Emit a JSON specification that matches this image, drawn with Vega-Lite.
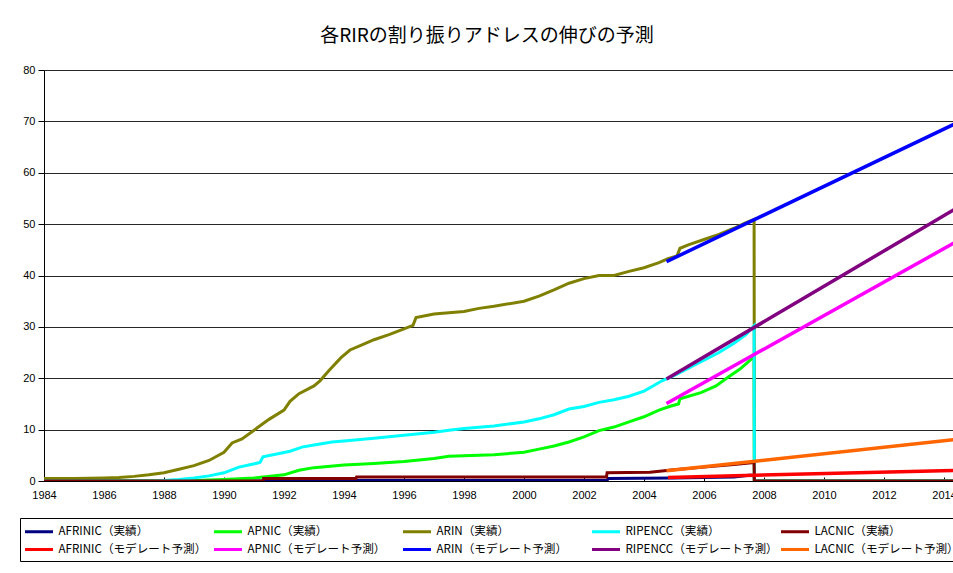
{
  "$schema": "https://vega.github.io/schema/vega-lite/v6.json",
  "width": 930,
  "height": 411,
  "autosize": {"type": "none"},
  "padding": {"left": 44, "top": 70, "right": 0, "bottom": 92},
  "background": "white",
  "title": {
    "text": "各RIRの割り振りアドレスの伸びの予測",
    "font": "Noto Sans CJK JP",
    "fontSize": 19,
    "fontWeight": "normal",
    "color": "black",
    "anchor": "middle",
    "dx": -22,
    "offset": 18
  },
  "config": {
    "view": {"stroke": null},
    "axis": {
      "labelFont": "Liberation Sans",
      "labelFontSize": 11,
      "labelColor": "black",
      "domainColor": "black",
      "tickColor": "black",
      "title": null
    }
  },
  "data": {
    "values": [
      {"s": "AFRINIC（実績）", "k": "実績", "x": 1984, "y": 0},
      {"s": "AFRINIC（実績）", "k": "実績", "x": 1994.4, "y": 0},
      {"s": "AFRINIC（実績）", "k": "実績", "x": 1994.42, "y": 0.1},
      {"s": "AFRINIC（実績）", "k": "実績", "x": 2002.77, "y": 0.1},
      {"s": "AFRINIC（実績）", "k": "実績", "x": 2002.8, "y": 0.5},
      {"s": "AFRINIC（実績）", "k": "実績", "x": 2005, "y": 0.6},
      {"s": "AFRINIC（実績）", "k": "実績", "x": 2006, "y": 0.7},
      {"s": "AFRINIC（実績）", "k": "実績", "x": 2007, "y": 0.8},
      {"s": "AFRINIC（実績）", "k": "実績", "x": 2007.5, "y": 1.1},
      {"s": "AFRINIC（実績）", "k": "実績", "x": 2007.67, "y": 1.1},
      {"s": "AFRINIC（実績）", "k": "実績", "x": 2007.68, "y": 0},
      {"s": "AFRINIC（実績）", "k": "実績", "x": 2015, "y": 0},

      {"s": "APNIC（実績）", "k": "実績", "x": 1984, "y": 0},
      {"s": "APNIC（実績）", "k": "実績", "x": 1988.8, "y": 0},
      {"s": "APNIC（実績）", "k": "実績", "x": 1989.5, "y": 0.2},
      {"s": "APNIC（実績）", "k": "実績", "x": 1990, "y": 0.3},
      {"s": "APNIC（実績）", "k": "実績", "x": 1991, "y": 0.6},
      {"s": "APNIC（実績）", "k": "実績", "x": 1992, "y": 1.2},
      {"s": "APNIC（実績）", "k": "実績", "x": 1992.5, "y": 2.1},
      {"s": "APNIC（実績）", "k": "実績", "x": 1993, "y": 2.6},
      {"s": "APNIC（実績）", "k": "実績", "x": 1994, "y": 3.1},
      {"s": "APNIC（実績）", "k": "実績", "x": 1995, "y": 3.4},
      {"s": "APNIC（実績）", "k": "実績", "x": 1996, "y": 3.8},
      {"s": "APNIC（実績）", "k": "実績", "x": 1997, "y": 4.4},
      {"s": "APNIC（実績）", "k": "実績", "x": 1997.5, "y": 4.8},
      {"s": "APNIC（実績）", "k": "実績", "x": 1998, "y": 4.9},
      {"s": "APNIC（実績）", "k": "実績", "x": 1999, "y": 5.1},
      {"s": "APNIC（実績）", "k": "実績", "x": 2000, "y": 5.6},
      {"s": "APNIC（実績）", "k": "実績", "x": 2000.5, "y": 6.2},
      {"s": "APNIC（実績）", "k": "実績", "x": 2001, "y": 6.8},
      {"s": "APNIC（実績）", "k": "実績", "x": 2001.5, "y": 7.6},
      {"s": "APNIC（実績）", "k": "実績", "x": 2002, "y": 8.6},
      {"s": "APNIC（実績）", "k": "実績", "x": 2002.5, "y": 9.8},
      {"s": "APNIC（実績）", "k": "実績", "x": 2003, "y": 10.5},
      {"s": "APNIC（実績）", "k": "実績", "x": 2003.5, "y": 11.5},
      {"s": "APNIC（実績）", "k": "実績", "x": 2004, "y": 12.5},
      {"s": "APNIC（実績）", "k": "実績", "x": 2004.5, "y": 13.8},
      {"s": "APNIC（実績）", "k": "実績", "x": 2004.9, "y": 14.6},
      {"s": "APNIC（実績）", "k": "実績", "x": 2005.15, "y": 15.0},
      {"s": "APNIC（実績）", "k": "実績", "x": 2005.2, "y": 16.0},
      {"s": "APNIC（実績）", "k": "実績", "x": 2005.9, "y": 17.2},
      {"s": "APNIC（実績）", "k": "実績", "x": 2006.4, "y": 18.5},
      {"s": "APNIC（実績）", "k": "実績", "x": 2006.8, "y": 20.2},
      {"s": "APNIC（実績）", "k": "実績", "x": 2007.2, "y": 21.8},
      {"s": "APNIC（実績）", "k": "実績", "x": 2007.53, "y": 23.5},
      {"s": "APNIC（実績）", "k": "実績", "x": 2007.67, "y": 24.2},
      {"s": "APNIC（実績）", "k": "実績", "x": 2007.68, "y": 0},
      {"s": "APNIC（実績）", "k": "実績", "x": 2015, "y": 0},

      {"s": "ARIN（実績）", "k": "実績", "x": 1984, "y": 0.5},
      {"s": "ARIN（実績）", "k": "実績", "x": 1985, "y": 0.5},
      {"s": "ARIN（実績）", "k": "実績", "x": 1986, "y": 0.6},
      {"s": "ARIN（実績）", "k": "実績", "x": 1986.5, "y": 0.7},
      {"s": "ARIN（実績）", "k": "実績", "x": 1987, "y": 0.9},
      {"s": "ARIN（実績）", "k": "実績", "x": 1987.5, "y": 1.2},
      {"s": "ARIN（実績）", "k": "実績", "x": 1988, "y": 1.6},
      {"s": "ARIN（実績）", "k": "実績", "x": 1988.5, "y": 2.3},
      {"s": "ARIN（実績）", "k": "実績", "x": 1989, "y": 3.0},
      {"s": "ARIN（実績）", "k": "実績", "x": 1989.5, "y": 4.0},
      {"s": "ARIN（実績）", "k": "実績", "x": 1990, "y": 5.6},
      {"s": "ARIN（実績）", "k": "実績", "x": 1990.27, "y": 7.4},
      {"s": "ARIN（実績）", "k": "実績", "x": 1990.6, "y": 8.2},
      {"s": "ARIN（実績）", "k": "実績", "x": 1991.1, "y": 10.3},
      {"s": "ARIN（実績）", "k": "実績", "x": 1991.5, "y": 12.0},
      {"s": "ARIN（実績）", "k": "実績", "x": 1992, "y": 13.8},
      {"s": "ARIN（実績）", "k": "実績", "x": 1992.2, "y": 15.5},
      {"s": "ARIN（実績）", "k": "実績", "x": 1992.5, "y": 17.0},
      {"s": "ARIN（実績）", "k": "実績", "x": 1993, "y": 18.5},
      {"s": "ARIN（実績）", "k": "実績", "x": 1993.2, "y": 19.5},
      {"s": "ARIN（実績）", "k": "実績", "x": 1993.5, "y": 21.5},
      {"s": "ARIN（実績）", "k": "実績", "x": 1993.9, "y": 24.0},
      {"s": "ARIN（実績）", "k": "実績", "x": 1994.2, "y": 25.5},
      {"s": "ARIN（実績）", "k": "実績", "x": 1994.6, "y": 26.5},
      {"s": "ARIN（実績）", "k": "実績", "x": 1995, "y": 27.5},
      {"s": "ARIN（実績）", "k": "実績", "x": 1995.5, "y": 28.5},
      {"s": "ARIN（実績）", "k": "実績", "x": 1996, "y": 29.6},
      {"s": "ARIN（実績）", "k": "実績", "x": 1996.3, "y": 30.3},
      {"s": "ARIN（実績）", "k": "実績", "x": 1996.4, "y": 31.8},
      {"s": "ARIN（実績）", "k": "実績", "x": 1997, "y": 32.5},
      {"s": "ARIN（実績）", "k": "実績", "x": 1998, "y": 33.0},
      {"s": "ARIN（実績）", "k": "実績", "x": 1998.5, "y": 33.6},
      {"s": "ARIN（実績）", "k": "実績", "x": 1999, "y": 34.0},
      {"s": "ARIN（実績）", "k": "実績", "x": 2000, "y": 35.0},
      {"s": "ARIN（実績）", "k": "実績", "x": 2000.5, "y": 36.0},
      {"s": "ARIN（実績）", "k": "実績", "x": 2001, "y": 37.2},
      {"s": "ARIN（実績）", "k": "実績", "x": 2001.5, "y": 38.5},
      {"s": "ARIN（実績）", "k": "実績", "x": 2002, "y": 39.4},
      {"s": "ARIN（実績）", "k": "実績", "x": 2002.5, "y": 40.0},
      {"s": "ARIN（実績）", "k": "実績", "x": 2003, "y": 40.0},
      {"s": "ARIN（実績）", "k": "実績", "x": 2003.5, "y": 40.8},
      {"s": "ARIN（実績）", "k": "実績", "x": 2004, "y": 41.5},
      {"s": "ARIN（実績）", "k": "実績", "x": 2004.5, "y": 42.5},
      {"s": "ARIN（実績）", "k": "実績", "x": 2004.8, "y": 43.3},
      {"s": "ARIN（実績）", "k": "実績", "x": 2005.1, "y": 43.8},
      {"s": "ARIN（実績）", "k": "実績", "x": 2005.2, "y": 45.3},
      {"s": "ARIN（実績）", "k": "実績", "x": 2005.5, "y": 46.0},
      {"s": "ARIN（実績）", "k": "実績", "x": 2006, "y": 47.0},
      {"s": "ARIN（実績）", "k": "実績", "x": 2006.5, "y": 48.0},
      {"s": "ARIN（実績）", "k": "実績", "x": 2007, "y": 49.2},
      {"s": "ARIN（実績）", "k": "実績", "x": 2007.4, "y": 50.3},
      {"s": "ARIN（実績）", "k": "実績", "x": 2007.67, "y": 50.9},
      {"s": "ARIN（実績）", "k": "実績", "x": 2007.68, "y": 0},
      {"s": "ARIN（実績）", "k": "実績", "x": 2015, "y": 0},

      {"s": "RIPENCC（実績）", "k": "実績", "x": 1984, "y": 0},
      {"s": "RIPENCC（実績）", "k": "実績", "x": 1987.8, "y": 0},
      {"s": "RIPENCC（実績）", "k": "実績", "x": 1988, "y": 0.1},
      {"s": "RIPENCC（実績）", "k": "実績", "x": 1988.5, "y": 0.3},
      {"s": "RIPENCC（実績）", "k": "実績", "x": 1989, "y": 0.6},
      {"s": "RIPENCC（実績）", "k": "実績", "x": 1989.5, "y": 1.0},
      {"s": "RIPENCC（実績）", "k": "実績", "x": 1990, "y": 1.6},
      {"s": "RIPENCC（実績）", "k": "実績", "x": 1990.5, "y": 2.7},
      {"s": "RIPENCC（実績）", "k": "実績", "x": 1990.9, "y": 3.2},
      {"s": "RIPENCC（実績）", "k": "実績", "x": 1991.2, "y": 3.6},
      {"s": "RIPENCC（実績）", "k": "実績", "x": 1991.3, "y": 4.7},
      {"s": "RIPENCC（実績）", "k": "実績", "x": 1991.8, "y": 5.3},
      {"s": "RIPENCC（実績）", "k": "実績", "x": 1992.2, "y": 5.8},
      {"s": "RIPENCC（実績）", "k": "実績", "x": 1992.6, "y": 6.6},
      {"s": "RIPENCC（実績）", "k": "実績", "x": 1993, "y": 7.0},
      {"s": "RIPENCC（実績）", "k": "実績", "x": 1993.6, "y": 7.6},
      {"s": "RIPENCC（実績）", "k": "実績", "x": 1994, "y": 7.8},
      {"s": "RIPENCC（実績）", "k": "実績", "x": 1995, "y": 8.3},
      {"s": "RIPENCC（実績）", "k": "実績", "x": 1996, "y": 8.9},
      {"s": "RIPENCC（実績）", "k": "実績", "x": 1997, "y": 9.5},
      {"s": "RIPENCC（実績）", "k": "実績", "x": 1997.5, "y": 9.9},
      {"s": "RIPENCC（実績）", "k": "実績", "x": 1998, "y": 10.2},
      {"s": "RIPENCC（実績）", "k": "実績", "x": 1999, "y": 10.7},
      {"s": "RIPENCC（実績）", "k": "実績", "x": 2000, "y": 11.5},
      {"s": "RIPENCC（実績）", "k": "実績", "x": 2000.5, "y": 12.1},
      {"s": "RIPENCC（実績）", "k": "実績", "x": 2001, "y": 12.9},
      {"s": "RIPENCC（実績）", "k": "実績", "x": 2001.5, "y": 14.0},
      {"s": "RIPENCC（実績）", "k": "実績", "x": 2002, "y": 14.5},
      {"s": "RIPENCC（実績）", "k": "実績", "x": 2002.5, "y": 15.3},
      {"s": "RIPENCC（実績）", "k": "実績", "x": 2003, "y": 15.8},
      {"s": "RIPENCC（実績）", "k": "実績", "x": 2003.5, "y": 16.5},
      {"s": "RIPENCC（実績）", "k": "実績", "x": 2004, "y": 17.5},
      {"s": "RIPENCC（実績）", "k": "実績", "x": 2004.3, "y": 18.5},
      {"s": "RIPENCC（実績）", "k": "実績", "x": 2004.6, "y": 19.5},
      {"s": "RIPENCC（実績）", "k": "実績", "x": 2005, "y": 20.5},
      {"s": "RIPENCC（実績）", "k": "実績", "x": 2005.5, "y": 22.0},
      {"s": "RIPENCC（実績）", "k": "実績", "x": 2006, "y": 23.5},
      {"s": "RIPENCC（実績）", "k": "実績", "x": 2006.5, "y": 25.0},
      {"s": "RIPENCC（実績）", "k": "実績", "x": 2007, "y": 26.8},
      {"s": "RIPENCC（実績）", "k": "実績", "x": 2007.4, "y": 28.5},
      {"s": "RIPENCC（実績）", "k": "実績", "x": 2007.67, "y": 30.2},
      {"s": "RIPENCC（実績）", "k": "実績", "x": 2007.68, "y": 0},
      {"s": "RIPENCC（実績）", "k": "実績", "x": 2015, "y": 0},

      {"s": "LACNIC（実績）", "k": "実績", "x": 1984, "y": 0},
      {"s": "LACNIC（実績）", "k": "実績", "x": 1991.3, "y": 0},
      {"s": "LACNIC（実績）", "k": "実績", "x": 1991.32, "y": 0.5},
      {"s": "LACNIC（実績）", "k": "実績", "x": 1994.4, "y": 0.5},
      {"s": "LACNIC（実績）", "k": "実績", "x": 1994.42, "y": 0.8},
      {"s": "LACNIC（実績）", "k": "実績", "x": 2002.75, "y": 0.8},
      {"s": "LACNIC（実績）", "k": "実績", "x": 2002.77, "y": 1.6},
      {"s": "LACNIC（実績）", "k": "実績", "x": 2004.2, "y": 1.7},
      {"s": "LACNIC（実績）", "k": "実績", "x": 2005, "y": 2.2},
      {"s": "LACNIC（実績）", "k": "実績", "x": 2006, "y": 2.7},
      {"s": "LACNIC（実績）", "k": "実績", "x": 2007, "y": 3.2},
      {"s": "LACNIC（実績）", "k": "実績", "x": 2007.67, "y": 3.6},
      {"s": "LACNIC（実績）", "k": "実績", "x": 2007.68, "y": 0},
      {"s": "LACNIC（実績）", "k": "実績", "x": 2015, "y": 0},

      {"s": "AFRINIC（モデレート予測）", "k": "予測", "x": 2004.8, "y": 0.7},
      {"s": "AFRINIC（モデレート予測）", "k": "予測", "x": 2015, "y": 2.15},
      {"s": "APNIC（モデレート予測）", "k": "予測", "x": 2004.75, "y": 15.1},
      {"s": "APNIC（モデレート予測）", "k": "予測", "x": 2015, "y": 48.5},
      {"s": "ARIN（モデレート予測）", "k": "予測", "x": 2004.75, "y": 42.7},
      {"s": "ARIN（モデレート予測）", "k": "予測", "x": 2015, "y": 71.3},
      {"s": "RIPENCC（モデレート予測）", "k": "予測", "x": 2004.75, "y": 19.85},
      {"s": "RIPENCC（モデレート予測）", "k": "予測", "x": 2015, "y": 55.1},
      {"s": "LACNIC（モデレート予測）", "k": "予測", "x": 2004.75, "y": 2.0},
      {"s": "LACNIC（モデレート予測）", "k": "予測", "x": 2015, "y": 8.45}
    ]
  },
  "encoding": {
    "x": {
      "field": "x",
      "type": "quantitative",
      "scale": {"domain": [1984, 2015], "nice": false, "zero": false},
      "axis": {
        "values": [1984, 1986, 1988, 1990, 1992, 1994, 1996, 1998, 2000, 2002, 2004, 2006, 2008, 2010, 2012, 2014],
        "format": "d",
        "grid": false,
        "tickSize": -4,
        "labelPadding": 12,
        "labelFlush": false,
        "labelOverlap": false
      }
    },
    "y": {
      "field": "y",
      "type": "quantitative",
      "scale": {"domain": [0, 80], "nice": false},
      "axis": {
        "values": [0, 10, 20, 30, 40, 50, 60, 70, 80],
        "grid": true,
        "gridColor": "black",
        "gridWidth": 1,
        "gridOpacity": 0.85,
        "tickSize": 6,
        "labelPadding": 3,
        "labelFlush": false,
        "labelOverlap": false
      }
    },
    "color": {
      "field": "s",
      "type": "nominal",
      "scale": {
        "domain": ["AFRINIC（実績）", "APNIC（実績）", "ARIN（実績）", "RIPENCC（実績）", "LACNIC（実績）",
                   "AFRINIC（モデレート予測）", "APNIC（モデレート予測）", "ARIN（モデレート予測）", "RIPENCC（モデレート予測）", "LACNIC（モデレート予測）"],
        "range": ["#000080", "#00FF00", "#808000", "#00FFFF", "#800000",
                  "#FF0000", "#FF00FF", "#0000FF", "#800080", "#FF6600"]
      },
      "legend": {
        "title": null,
        "orient": "none",
        "direction": "horizontal",
        "legendX": -24,
        "legendY": 448,
        "columns": 5,
        "gridAlign": "all",
        "columnPadding": -3,
        "rowPadding": 3,
        "padding": 5,
        "strokeColor": "black",
        "fillColor": "white",
        "symbolType": "M-2,0L2,0",
        "symbolSize": 196,
        "symbolOffset": 5.5,
        "symbolStrokeWidth": 3,
        "labelFont": "Noto Sans CJK JP",
        "labelFontSize": 11.6,
        "labelColor": "black",
        "labelOffset": 11,
        "labelLimit": 0
      }
    }
  },
  "layer": [
    {
      "transform": [{"filter": "datum.k === '実績'"}],
      "mark": {"type": "line", "strokeWidth": 3, "clip": true}
    },
    {
      "transform": [{"filter": "datum.k === '予測'"}],
      "mark": {"type": "line", "strokeWidth": 3.5, "clip": true}
    }
  ]
}
